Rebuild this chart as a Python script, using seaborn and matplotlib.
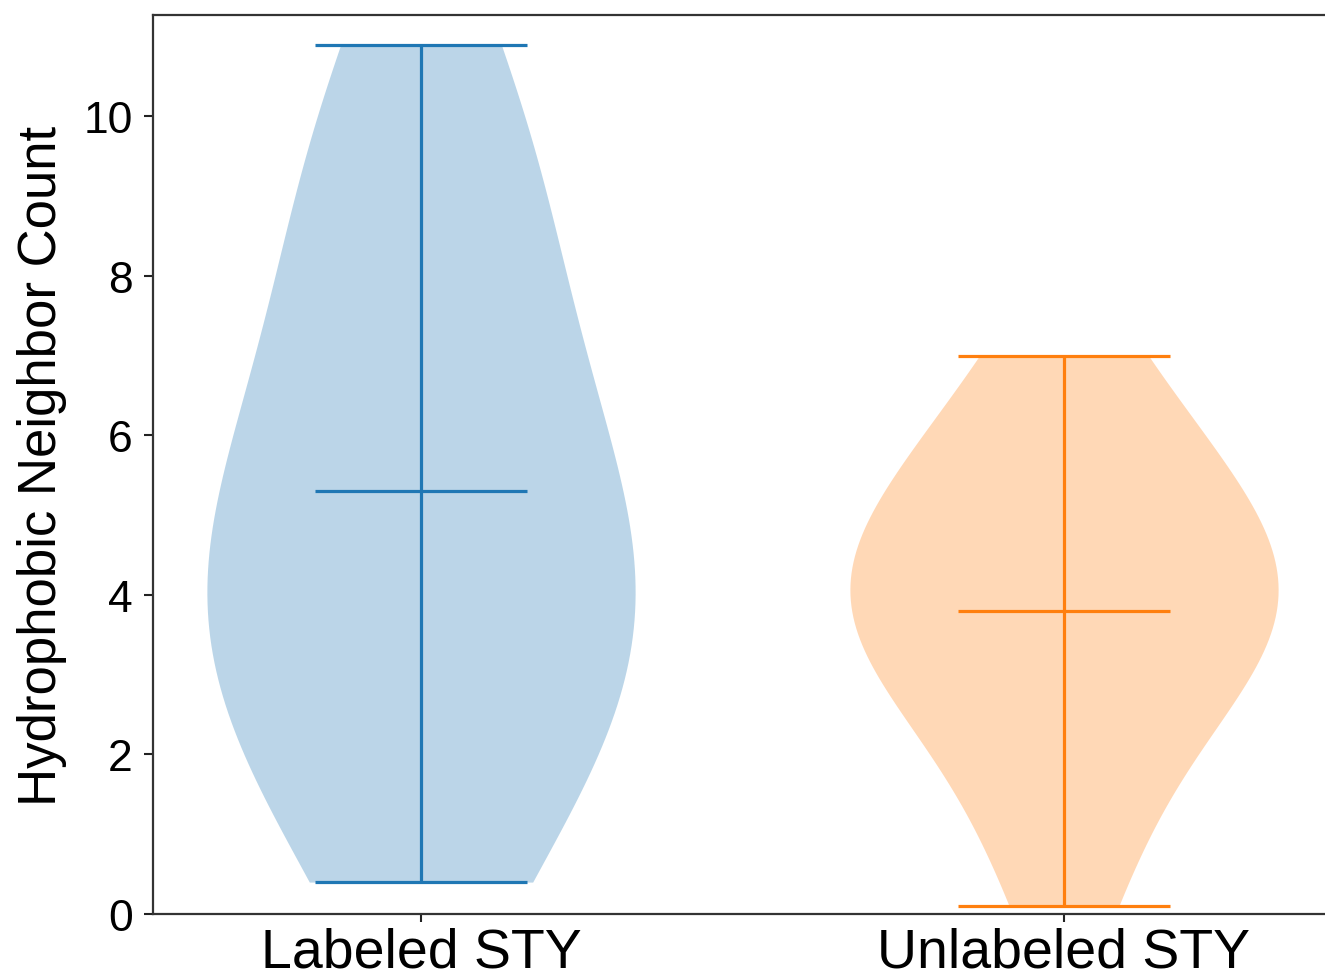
import numpy as np
import pandas as pd
import matplotlib
matplotlib.use("Agg")
import matplotlib.pyplot as plt
import seaborn as sns

# ---- data ----
categories = ["Labeled STY", "Unlabeled STY"]
labeled_values = [0.4, 0.9, 1.5, 2.1, 2.7, 3.1, 3.5, 3.8, 4.1, 4.4,
                  4.8, 5.3, 5.9, 6.5, 7.2, 7.9, 8.7, 9.5, 10.2, 10.9]
unlabeled_values = [0.1, 1.1, 2.0, 2.6, 3.0, 3.3, 3.6, 3.9, 4.1, 4.3,
                    4.6, 4.9, 5.3, 5.8, 6.4, 7.0]
stat_mins = [0.4, 0.1]
stat_means = [5.3, 3.8]
stat_maxes = [10.9, 7.0]
yticks = [0, 2, 4, 6, 8, 10]

colors = ["#1f77b4", "#ff7f0e"]

df = pd.DataFrame({
    "group": [categories[0]] * len(labeled_values) + [categories[1]] * len(unlabeled_values),
    "value": labeled_values + unlabeled_values,
})

sns.set_style("ticks")
plt.rcParams["font.family"] = ["Liberation Sans", "DejaVu Sans"]
plt.rcParams["text.color"] = "black"
plt.rcParams["axes.labelcolor"] = "black"
plt.rcParams["xtick.color"] = "black"
plt.rcParams["ytick.color"] = "black"

W, H = 1325, 979
fig = plt.figure(figsize=(W / 100, H / 100), dpi=100)
left, top, bottom, right = 153, 16, 915, 1400
ax = fig.add_axes([left / W, 1 - bottom / H, (right - left) / W, (bottom - top) / H])

sns.violinplot(data=df, x="group", y="value", hue="group", palette=colors,
               order=categories, hue_order=categories,
               cut=0, inner=None, density_norm="width", width=0.666,
               bw_adjust=1.2,
               linewidth=0, saturation=1, alpha=0.3, legend=False, ax=ax)

pos = np.arange(len(categories))
half = 0.165
lw = 2.3
ax.vlines(pos, stat_mins, stat_maxes, colors=colors, lw=lw)
ax.hlines(stat_mins, pos - half, pos + half, colors=colors, lw=lw)
ax.hlines(stat_maxes, pos - half, pos + half, colors=colors, lw=lw)
ax.hlines(stat_means, pos - half, pos + half, colors=colors, lw=lw)

px_per_unit = 643
ax.set_xlim(-(421 - left) / px_per_unit, 1 + (right - 1064) / px_per_unit)
ax.set_ylim(0, 11.27)
ax.set_yticks(yticks)
ax.set_xticks(pos)
ax.set_xticklabels(categories)
ax.set_xlabel("")
ax.set_ylabel("Hydrophobic Neighbor Count", fontsize=38, labelpad=12)

ax.tick_params(axis="y", labelsize=32, length=6.5, width=1.5, pad=8,
               color="#222222", labelcolor="black")
ax.tick_params(axis="x", labelsize=40, length=6, width=1.5, pad=3,
               color="#222222", labelcolor="black")
for s in ax.spines.values():
    s.set_linewidth(1.6)
    s.set_color("#333333")

fig.savefig("out.png", dpi=100)
